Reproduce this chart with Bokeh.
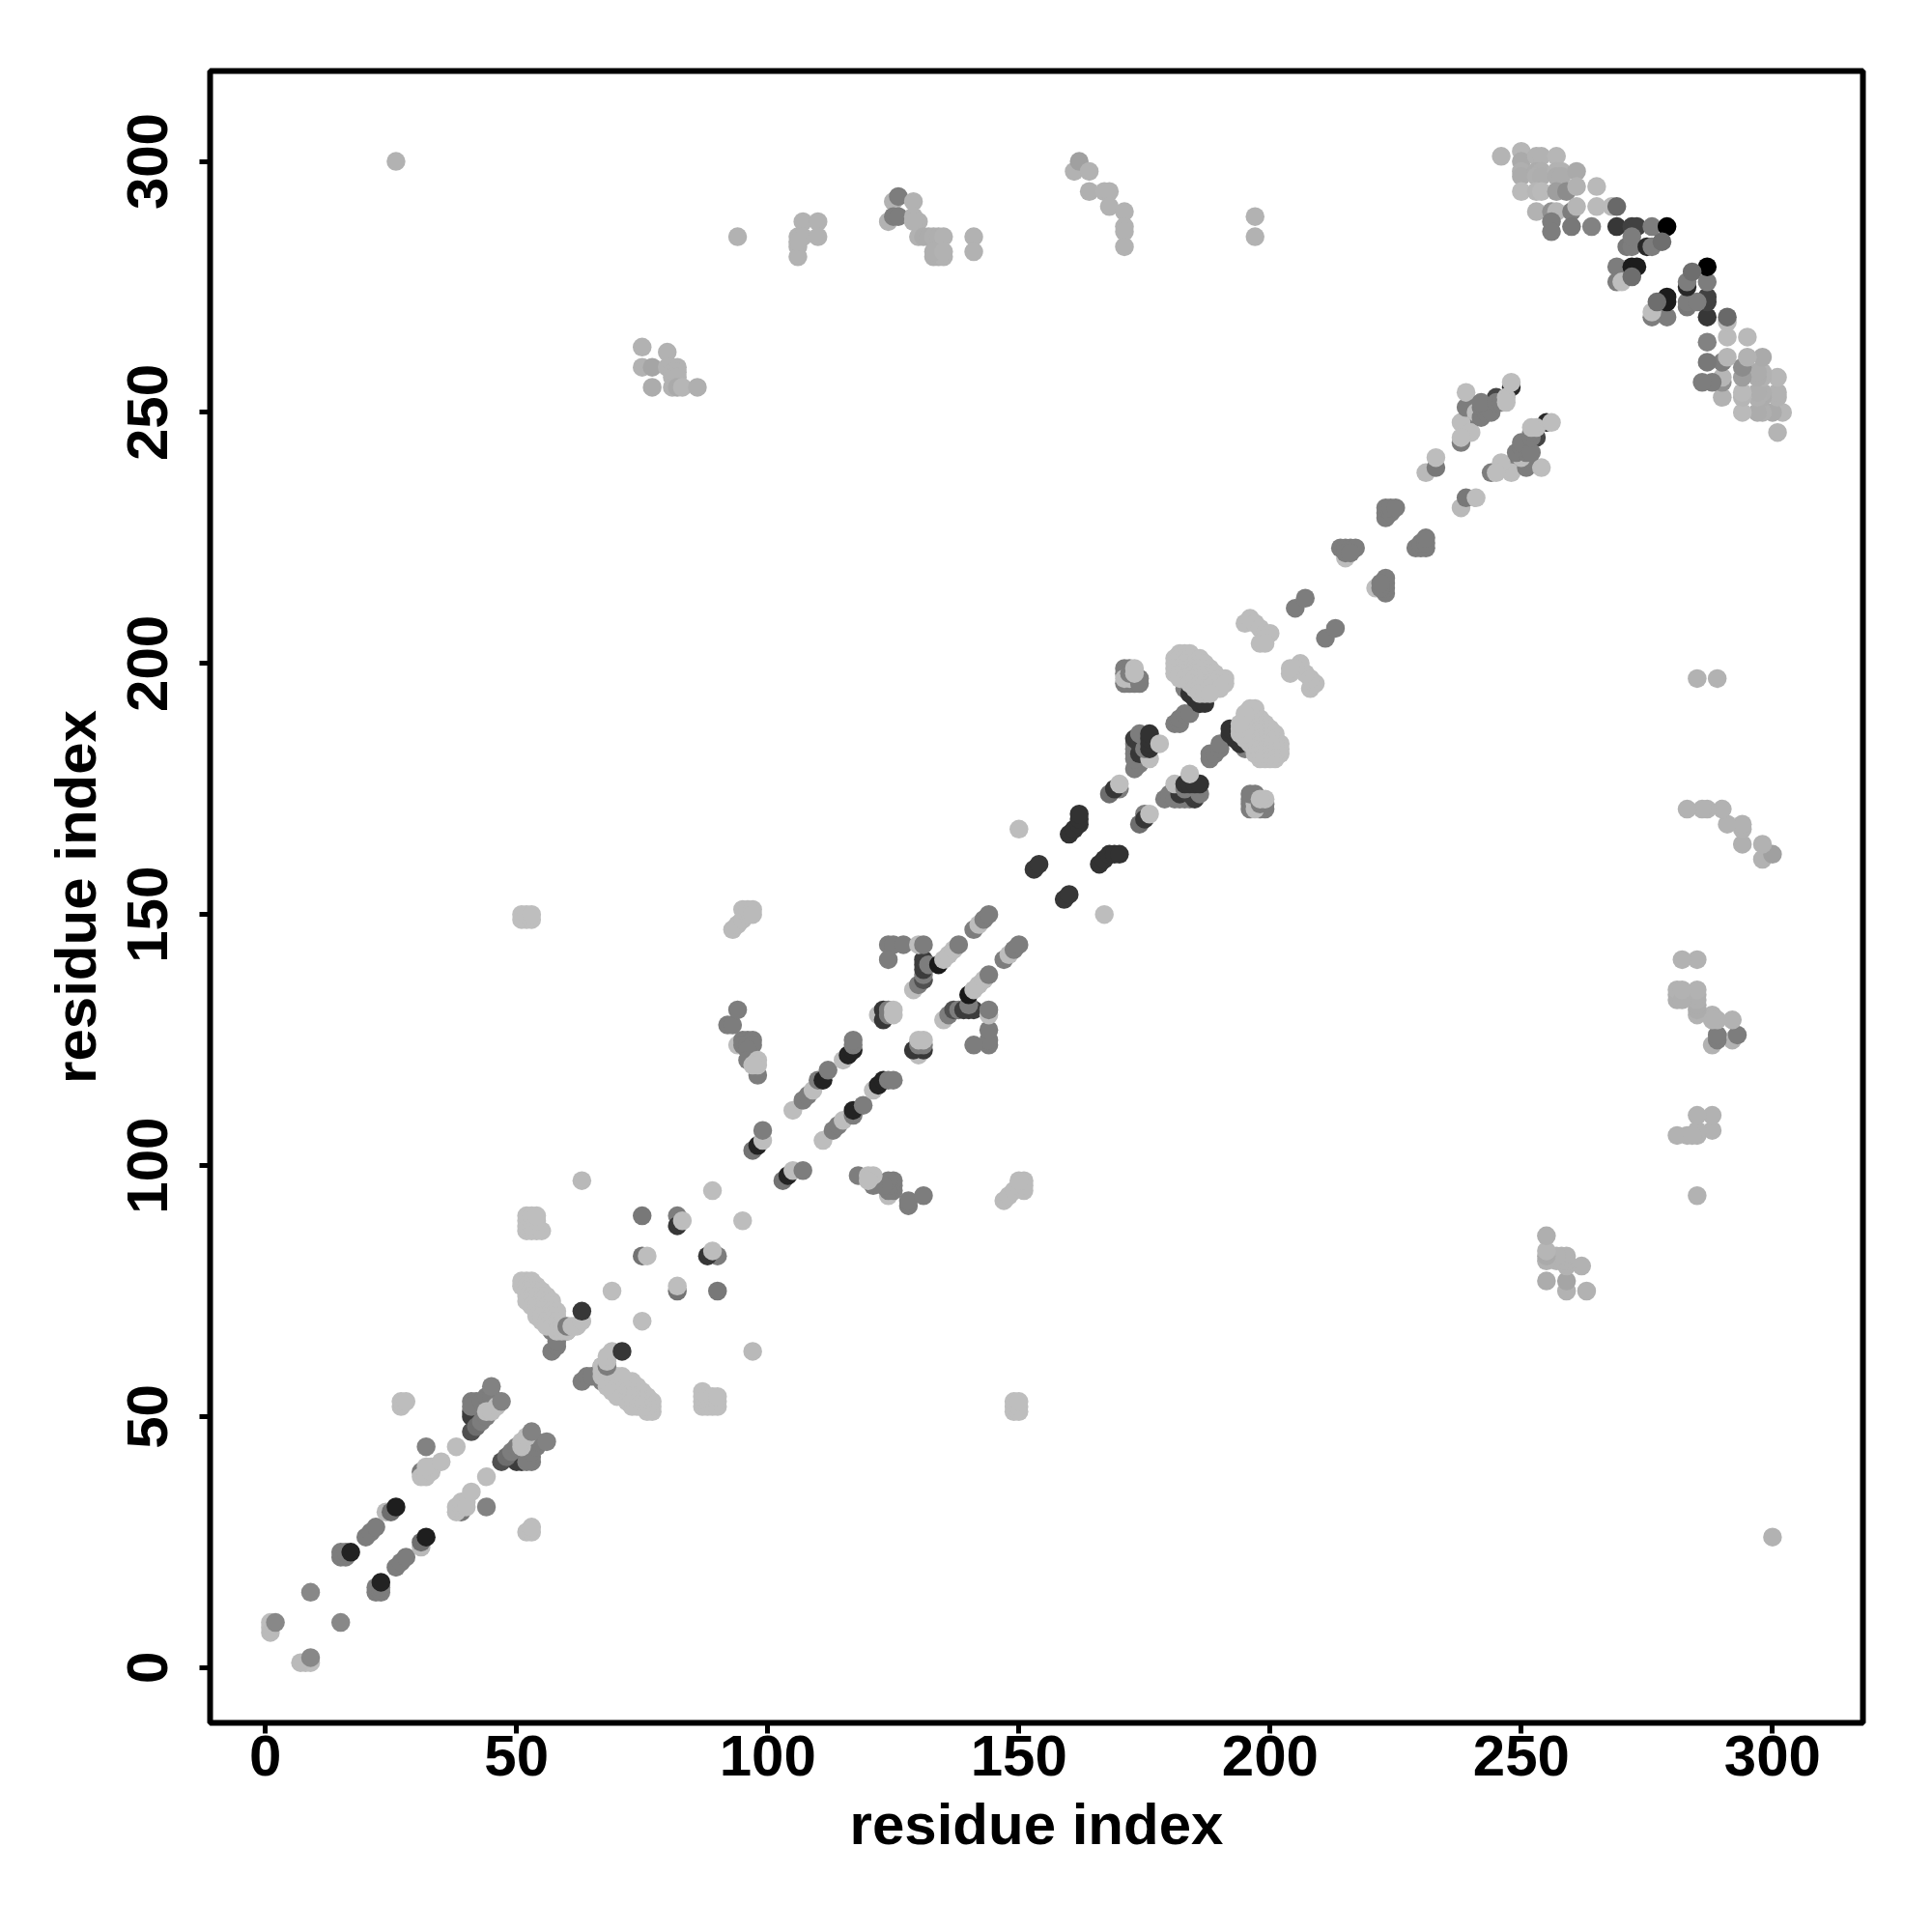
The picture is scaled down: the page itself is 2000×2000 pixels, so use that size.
from bokeh.plotting import figure
from bokeh.models import Range1d, FixedTicker, ColumnDataSource
from bokeh.embed import file_html
from bokeh.resources import INLINE

tick_values = [0, 50, 100, 150, 200, 250, 300]
axis_title = "residue index"

# contacts (residue i, residue j, grey level); each line is one group
res_i = [
 1,1,1,2, 9, 15,16,15,16,17,
 20,21,22,24,25,26,
 31,31,32,32,33,33,32,32,35,38,
 27,27,28,
 41,41,41,42,43,44,41,42,41,43,44,45,44,45,46,45,47,
 57,58,58,57,60,
 51,52,53, 51,52,53,54, 52,53,54,55, 52,53,54,55,56, 52,53,54,55,56,57, 53,54,55,56,57, 54,55,56,57,58, 54,55,56,57,58, 55,56,57,58, 56,57,58,59, 58,59,60,
 60,61,62,63,63,
 52,53,54,55,52,53,54,52,53,54,52,53,54,
 69,63,82,75,82,83,89,75,76,
 51,52,53,51,52,53,
 92,93,94,94,95,96,97,95,96,97,96,96,98,98,98,97,
 93,94,95,96,95,96,97,97,
 97,98,99,99,
 105,107,108,109,110,111,112,115,116,117,117,117,
 122,123,123,124,124,125,125,
 124,125,127,124,129,130,131,131,131,131,131,130,131,132,134,135,136,137,138,
 141,142,143,144,
 150,153,154,160,161,162,162,162,
 168,170,169,170,
 173,174,173,173,173,173,174,176,173,174,174,175,176,176,176,176,178,
 171,172,171,171,172,173,171,172,172,174,174,173,173,
 181,182,182,183,184,
 183,184,185,186,187,
 182,183,184, 181,182,183,184,185,186, 181,182,183,184,185,186,187, 181,182,183,184,185,186,187,188, 181,182,183,184,185,186,187,188,189, 182,183,184,185,186,187,188,189,190,191, 184,185,186,187,188,189,190,191, 185,186,187,188,189,190, 186,187,188,
 195,196,197,198,199,200,199,198,199,
 205,207,
 215,214,215,216,217,215,216,
 223,223,223,224,224,225,
 231,233,233,
 240,245,248,239,238,238,239,239,240,238,241,241,242,242,243,243,244,244,242,245,246,247,247,248,
 26,
 94,106,106,106,107,107,110,110,106,
 125,126,129,124,125,126,129,130,129,130,131,132,133,134,135,133,134,135,133,135,141,141,
 161,162,164,164,167,168,168,171,171,171,171,
 197,197,
 75,80,75,77,80,81,82,81,82,81,82,77,81,82,83,86,
 246,250,250,250,250,250,253,254,257,253,254,253,254,257,258,257,258,261,253,254,257,259,261,265,253,256,257,260,261,265,268,269,
 256,256,260,264,
 269,272,273,276,279,
 271,272,272,275,276,278,
 269,269,270,272,273,272,
]
res_j = [
 9,8,7,9, 15, 22,22,23,23,23,
 26,27,28,31,31,32,
 39,38,38,39,39,40,40,44,41,44,
 52,53,53,
 51,50,47,48,49,50,53,53,52,53,54,54,51,51,52,56,53,
 63,64,65,67,67,
 77,77,77, 76,76,76,76, 75,75,75,75, 74,74,74,74,74, 73,73,73,73,73,73, 72,72,72,72,72, 71,71,71,71,71, 70,70,70,70,70, 69,69,69,69, 68,68,68,68, 67,67,67,
 68,68,68,69,71,
 87,87,87,87,88,88,88,89,89,89,90,90,90,
 75,97,90,90,88,89,95,82,82,
 149,149,149,150,150,150,
 128,128,131,124,125,125,125,124,124,124,123,121,118,121,120,120,
 147,148,149,150,151,151,151,150,
 103,104,105,107,
 111,113,114,115,117,117,119,121,122,123,124,125,
 130,129,131,130,131,131,130,
 144,144,144,141,135,136,137,138,139,140,141,144,144,140,140,141,142,143,144,
 147,148,149,150,
 167,159,160,166,167,168,169,170,
 174,175,175,176,
 179,180,181,182,183,184,182,181,185,184,186,183,183,184,185,186,184,
 199,199,198,196,196,196,197,197,198,197,196,199,198,
 188,188,189,190,190,
 195,194,193,192,192,
 202,202,202, 201,201,201,201,201,201, 200,200,200,200,200,200,200, 199,199,199,199,199,199,199,199, 198,198,198,198,198,198,198,198,198, 197,197,197,197,197,197,197,197,197,197, 196,196,196,196,196,196,196,196, 195,195,195,195,195,195, 194,194,194,
 208,209,208,207,206,206,205,204,204,
 211,213,
 221,223,223,223,223,222,222,
 229,230,231,230,231,231,
 238,239,241,
 249,253,255,247,244,248,251,254,246,245,251,250,249,251,250,251,251,250,252,252,252,253,252,256,
 300,
 285,285,283,281,288,285,288,285,284,
 292,293,292,288,289,289,289,288,288,285,285,285,285,285,285,281,281,281,282,282,285,282,
 298,300,298,294,294,294,291,290,287,286,283,
 289,285,
 263,262,259,259,259,259,259,258,258,257,257,255,255,255,255,255,
 301,302,300,298,297,294,301,301,301,298,298,297,297,298,298,297,297,298,294,294,294,294,295,295,290,290,290,290,291,291,291,291,
 288,286,287,287,
 287,287,287,287,287,
 283,283,285,283,283,284,
 279,276,276,279,279,277,
]
shade = [
 189,189,186,136, 136, 125,125,125,125,34,
 125,125,125,185,110,30,
 120,189,189,189,189,189,189,130,189,189,
 189,189,189,
 60,60,80,110,125,125,125,125,125,125,125,125,189,189,189,130,130,
 125,125,125,125,125,
 190,190,190, 190,190,190,190, 190,190,190,190, 190,190,190,190,190, 190,190,190,190,190,190, 190,190,190,190,190, 190,190,190,190,190, 190,190,190,190,190, 190,190,190,190, 190,190,190,190, 190,190,190,
 125,189,189,189,55,
 190,190,190,190,190,190,190,190,190,190,190,190,190,
 189,185,125,120,55,189,189,115,189,
 190,190,190,190,190,190,
 125,125,125,189,125,125,125,125,125,125,125,125,125,189,189,189,
 186,186,186,186,186,186,186,186,
 115,35,189,125,
 189,125,125,189,125,35,125,189,35,35,125,125,
 189,55,55,125,125,189,189,
 125,125,125,125,189,125,80,125,60,60,60,189,125,125,25,189,189,189,125,
 125,189,125,125,
 189,55,55,50,50,50,50,50,
 110,125,55,190,
 125,125,125,125,125,125,55,189,60,60,125,125,50,50,50,50,189,
 125,125,125,125,125,125,189,189,125,125,125,189,189,
 125,125,125,125,125,
 125,50,50,50,50,
 190,190,190, 190,190,190,190,190,190, 190,190,190,190,190,190,190, 190,190,190,190,190,190,190,190, 190,190,190,190,190,190,190,190,190, 190,190,190,190,190,190,190,190,190,190, 190,190,190,190,190,190,190,190, 190,190,190,190,190,190, 190,190,190,
 188,188,188,188,188,188,188,188,188,
 125,125,
 189,125,125,125,125,125,125,
 125,125,125,125,125,125,
 185,120,189,
 50,70,40,125,125,189,125,189,189,189,125,189,125,125,125,125,125,125,125,125,125,189,189,189,
 178,
 178,178,178,178,178,178,178,178,178,
 178,125,178,178,125,125,178,178,178,178,172,172,175,175,178,175,175,178,175,178,178,178,
 178,160,178,176,178,178,178,178,178,178,178,
 178,178,
 178,178,178,165,178,178,178,178,178,178,178,172,178,170,182,175,
 180,182,170,175,172,186,178,178,182,172,175,176,174,178,178,172,172,170,182,186,158,140,178,185,178,145,182,125,182,186,186,105,
 125,125,120,130,
 55,65,65,125,0,
 120,125,125,40,125,110,
 125,125,190,28,28,110,
]
assert len(res_i) == len(res_j) == len(shade)

# the map is symmetric: each contact appears at (i, j) and at (j, i)
xs = res_i + res_j
ys = res_j + res_i
greys = shade + shade
colors = ["#%02x%02x%02x" % (g, g, g) for g in greys]

p = figure(width=1992, height=1992, output_backend="svg", toolbar_location=None,
           x_range=Range1d(-11, 318), y_range=Range1d(-11, 318),
           min_border_left=217, min_border_right=64, min_border_top=73, min_border_bottom=209)
p.grid.visible = False
p.background_fill_color = "white"
p.outline_line_color = "black"
p.outline_line_width = 6
p.outline_line_alpha = 1

src = ColumnDataSource(dict(x=xs, y=ys, c=colors))
p.scatter("x", "y", source=src, size=19.5, color="c", line_color=None)

for ax in (p.xaxis[0], p.yaxis[0]):
    ax.ticker = FixedTicker(ticks=tick_values)
    ax.axis_line_color = None
    ax.major_tick_in = 0
    ax.major_tick_out = 11
    ax.major_tick_line_width = 5
    ax.major_tick_line_color = "black"
    ax.minor_tick_line_color = None
    ax.major_label_text_font = "Liberation Sans"
    ax.major_label_text_font_style = "bold"
    ax.major_label_text_font_size = "60px"
    ax.major_label_text_color = "black"
    ax.axis_label = axis_title
    ax.axis_label_text_font = "Liberation Sans"
    ax.axis_label_text_font_style = "bold"
    ax.axis_label_text_font_size = "60px"
    ax.axis_label_text_color = "black"

p.xaxis[0].major_label_standoff = 2
p.xaxis[0].axis_label_standoff = 14
p.yaxis[0].major_label_orientation = "vertical"
p.yaxis[0].major_label_standoff = 33
p.yaxis[0].axis_label_standoff = 18

open("out.html", "w").write(file_html(p, INLINE))
